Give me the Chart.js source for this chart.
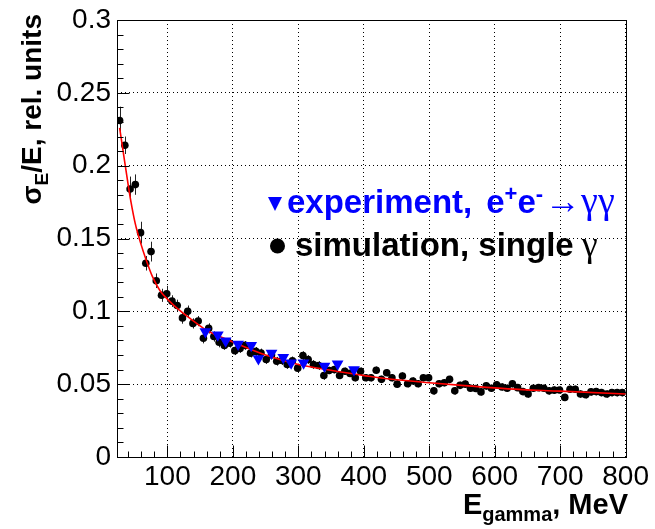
<!DOCTYPE html>
<html>
<head>
<meta charset="utf-8">
<script src="https://cdn.jsdelivr.net/npm/chart.js@4.4.1/dist/chart.umd.min.js"></script>
<style>
body { margin:0; background:#fff; }
#myChart { display:block; }
</style>
</head>
<body>
<canvas id="myChart" width="655" height="529"></canvas>
<script>
const myChartObject = document.getElementById('myChart');

// simulation, single gamma (MeV, sigma_E/E)
const simE = [27,35,43,51,59,67,75,83,91,99,
  107,115,123,131,139,147,155,163,171,179,
  187,195,203,211,219,227,235,243,251,259,
  267,275,283,291,299,307,315,323,331,339,
  347,355,363,371,379,387,395,403,411,419,
  427,435,443,451,459,467,475,483,491,499,
  507,515,523,531,539,547,555,563,571,579,
  587,595,603,611,619,627,635,643,651,659,
  667,675,683,691,699,707,715,723,731,739,
  747,755,763,771,779,787,795];
const simY = [0.231,0.214,0.184,0.187,0.154,0.133,0.141,0.121,0.111,0.112,
  0.107,0.104,0.0955,0.100,0.0917,0.0933,0.0815,0.0883,0.0827,0.0788,
  0.0766,0.0781,0.0730,0.0745,0.0766,0.0713,0.0725,0.0714,0.0669,0.0700,
  0.0657,0.0662,0.0635,0.0660,0.0610,0.0696,0.0669,0.0635,0.0628,0.0560,
  0.0594,0.0600,0.0560,0.0589,0.0574,0.0544,0.0589,0.0544,0.0544,0.0596,
  0.0533,0.0578,0.0544,0.0500,0.0556,0.0503,0.0522,0.0503,0.0544,0.0544,
  0.0454,0.0503,0.0510,0.0533,0.0454,0.0492,0.0500,0.0472,0.0470,0.0447,
  0.0488,0.0472,0.0495,0.0481,0.0472,0.0503,0.0476,0.0449,0.0432,0.0472,
  0.0476,0.0472,0.0454,0.0459,0.0460,0.0409,0.0465,0.0465,0.0432,0.0427,
  0.0447,0.0449,0.0442,0.0432,0.0442,0.0442,0.0442];
const simErr = [0.0095,0.006,0.0085,0.007,0.0075,0.005,0.0068,0.005,0.0045,0.0055,
  0.004,0.004,0.004,0.004,0.0035,0.0035,0.0035,0.0035,0.0035,0.0035,
  0.003,0.003,0.003,0.003,0.003,0.003,0.003,0.003,0.003,0.003,
  0.003,0.003,0.003,0.003,0.003,0.003,0.003,0.003,0.003,0.003,
  0.0025,0.0025,0.0025,0.0025,0.0025,0.0025,0.0025,0.0025,0.0025,0.0025,
  0.0025,0.0025,0.0025,0.0025,0.0025,0.0025,0.0025,0.0025,0.0025,0.0025,
  0.0025,0.0025,0.0025,0.0025,0.0025,0.0025,0.0025,0.0025,0.0025,0.0025,
  0.0025,0.0025,0.0025,0.0025,0.0025,0.0025,0.0025,0.0025,0.0025,0.0025,
  0.0025,0.0025,0.0025,0.0025,0.0025,0.0025,0.0025,0.0025,0.0025,0.0025,
  0.0025,0.0025,0.0025,0.0025,0.0025,0.0025,0.0025];

// experiment, e+e- -> gamma gamma
const expE = [158,177,189,208,228,239,259,277,289,308,340,360,385];
const expY = [0.0860,0.0838,0.0797,0.0774,0.0766,0.0675,0.0713,0.0684,0.0646,0.0646,0.0623,0.0639,0.0600];

// fit curve
const fitE = [27,33,39,44,51,59,67,77,89,102,115,135,160,200,250,300,350,424,500,560,620,700,800];
const fitY = [0.226,0.208,0.190,0.176,0.160,0.147,0.136,0.124,0.114,0.1075,0.102,0.095,0.087,0.079,0.0700,0.0635,0.0595,0.0544,0.0510,0.0488,0.0468,0.0452,0.0432];

const xTickValues = [100,200,300,400,500,600,700,800];
const yTickValues = [0,0.05,0.1,0.15,0.2,0.25,0.3];

function toPoints(xs, ys) {
  return xs.map((x, i) => ({x: x, y: ys[i]}));
}

const SANS = 'Liberation Sans, Arial, Helvetica, sans-serif';
const SERIF = 'Liberation Serif, Times New Roman, serif';

function drawRuns(ctx, runs, x, y) {
  runs.forEach(r => {
    ctx.font = r.font;
    ctx.fillStyle = r.color || '#000';
    ctx.fillText(r.text, x, y + (r.dy || 0));
    x += ctx.measureText(r.text).width + (r.gap || 0);
  });
}
function runsWidth(ctx, runs) {
  let w = 0;
  runs.forEach(r => { ctx.font = r.font; w += ctx.measureText(r.text).width + (r.gap || 0); });
  return w;
}

const errorBars = {
  id: 'errorBars',
  beforeDatasetsDraw(chart) {
    const ctx = chart.ctx, xs = chart.scales.x, ys = chart.scales.y;
    ctx.save();
    ctx.strokeStyle = '#222';
    ctx.lineWidth = 1;
    simE.forEach((e, i) => {
      const px = Math.round(xs.getPixelForValue(e)) + 0.5;
      ctx.beginPath();
      ctx.moveTo(px, ys.getPixelForValue(simY[i] - simErr[i]));
      ctx.lineTo(px, ys.getPixelForValue(simY[i] + simErr[i]));
      ctx.stroke();
    });
    ctx.restore();
  }
};

const frameAndText = {
  id: 'frameAndText',
  afterDraw(chart) {
    const ctx = chart.ctx, a = chart.chartArea, xs = chart.scales.x, ys = chart.scales.y;
    ctx.save();
    ctx.strokeStyle = '#000';
    ctx.lineWidth = 1;
    const L = Math.round(a.left) + 0.5, R = Math.round(a.right) + 0.5;
    const T = Math.round(a.top) + 0.5, B = Math.round(a.bottom) + 0.5;
    ctx.strokeRect(L, T, R - L, B - T);

    // ticks inside the frame
    ctx.beginPath();
    for (let v = 40; v < 800; v += 20) {
      const len = v % 100 === 0 ? 12 : 6;
      const px = Math.round(xs.getPixelForValue(v)) + 0.5;
      ctx.moveTo(px, B);
      ctx.lineTo(px, B - len);
    }
    for (let k = 1; k < 30; k++) {
      const len = k % 5 === 0 ? 12 : 6;
      const py = Math.round(ys.getPixelForValue(k / 100)) + 0.5;
      ctx.moveTo(L, py);
      ctx.lineTo(L + len, py);
    }
    ctx.stroke();

    ctx.textAlign = 'left';
    ctx.textBaseline = 'alphabetic';

    // x title
    const xt = [
      {text: 'E', font: 'bold 29px ' + SANS},
      {text: 'gamma', font: 'bold 20px ' + SANS, dy: 7},
      {text: ', MeV', font: 'bold 29px ' + SANS}
    ];
    drawRuns(ctx, xt, 628 - runsWidth(ctx, xt), 514);

    // y title
    const yt = [
      {text: 'σ', font: 'bold 28px ' + SANS},
      {text: 'E', font: 'bold 19px ' + SANS, dy: 7},
      {text: '/E, rel. units', font: 'bold 28px ' + SANS}
    ];
    ctx.save();
    ctx.translate(41, 14);
    ctx.rotate(-Math.PI / 2);
    drawRuns(ctx, yt, -runsWidth(ctx, yt), 0);
    ctx.restore();

    // legend
    ctx.fillStyle = '#0000ff';
    ctx.beginPath();
    ctx.moveTo(268, 197);
    ctx.lineTo(282, 197);
    ctx.lineTo(275, 211);
    ctx.closePath();
    ctx.fill();
    drawRuns(ctx, [
      {text: 'experiment,', font: 'bold 33px ' + SANS, color: '#0000ff', gap: 14},
      {text: 'e', font: 'bold 33px ' + SANS, color: '#0000ff'},
      {text: '+', font: 'bold 22px ' + SANS, color: '#0000ff', dy: -12},
      {text: 'e', font: 'bold 33px ' + SANS, color: '#0000ff'},
      {text: '-', font: 'bold 22px ' + SANS, color: '#0000ff', dy: -12, gap: 2},
      {text: '→', font: '36px ' + SERIF, color: '#0000ff'},
      {text: 'γγ', font: '38px ' + SERIF, color: '#0000ff'}
    ], 287, 213);

    ctx.fillStyle = '#000';
    ctx.beginPath();
    ctx.arc(277.5, 246, 7.5, 0, Math.PI * 2);
    ctx.fill();
    drawRuns(ctx, [
      {text: 'simulation, single', font: 'bold 33px ' + SANS, gap: 8},
      {text: 'γ', font: '36px ' + SERIF}
    ], 295, 256);
    ctx.restore();
  }
};

const cfg = {
  type: 'scatter',
  data: {
    datasets: [{
      label: 'simulation, single γ',
      data: toPoints(simE, simY),
      backgroundColor: '#000',
      borderColor: '#000',
      pointRadius: 3.8,
      pointBorderWidth: 0,
      order: 3
    }, {
      label: 'fit',
      type: 'line',
      data: toPoints(fitE, fitY),
      borderColor: '#ff0000',
      borderWidth: 1.6,
      pointRadius: 0,
      fill: false,
      cubicInterpolationMode: 'monotone',
      order: 2
    }, {
      label: 'experiment, e+e-→γγ',
      data: toPoints(expE, expY),
      backgroundColor: '#0000ff',
      borderColor: '#0000ff',
      pointStyle: 'triangle',
      rotation: 180,
      pointRadius: 6.8,
      pointBorderWidth: 0,
      order: 1
    }]
  },
  options: {
    responsive: false,
    devicePixelRatio: 1,
    animation: false,
    layout: {padding: {left: 0, top: 14, right: 28, bottom: 0}},
    plugins: {legend: {display: false}, tooltip: {enabled: false}},
    scales: {
      x: {
        type: 'linear',
        min: 23,
        max: 800,
        afterBuildTicks: s => { s.ticks = xTickValues.map(v => ({value: v})); },
        afterFit: s => { s.height = 72; },
        grid: {color: '#000', lineWidth: 1, drawTicks: false},
        border: {display: false, dash: [1, 3]},
        ticks: {
          color: '#000',
          font: {family: SANS, size: 28, lineHeight: 1},
          padding: 6,
          autoSkip: false,
          maxRotation: 0,
          callback: v => String(v)
        }
      },
      y: {
        type: 'linear',
        min: 0,
        max: 0.3,
        afterBuildTicks: s => { s.ticks = yTickValues.map(v => ({value: v})); },
        afterFit: s => { s.width = 117; },
        grid: {color: '#000', lineWidth: 1, drawTicks: false},
        border: {display: false, dash: [1, 3]},
        ticks: {
          color: '#000',
          font: {family: SANS, size: 28, lineHeight: 1},
          padding: 6,
          callback: v => String(+v.toFixed(2))
        }
      }
    }
  },
  plugins: [errorBars, frameAndText]
};

let chart = new Chart(myChartObject, cfg);
</script>
</body>
</html>
